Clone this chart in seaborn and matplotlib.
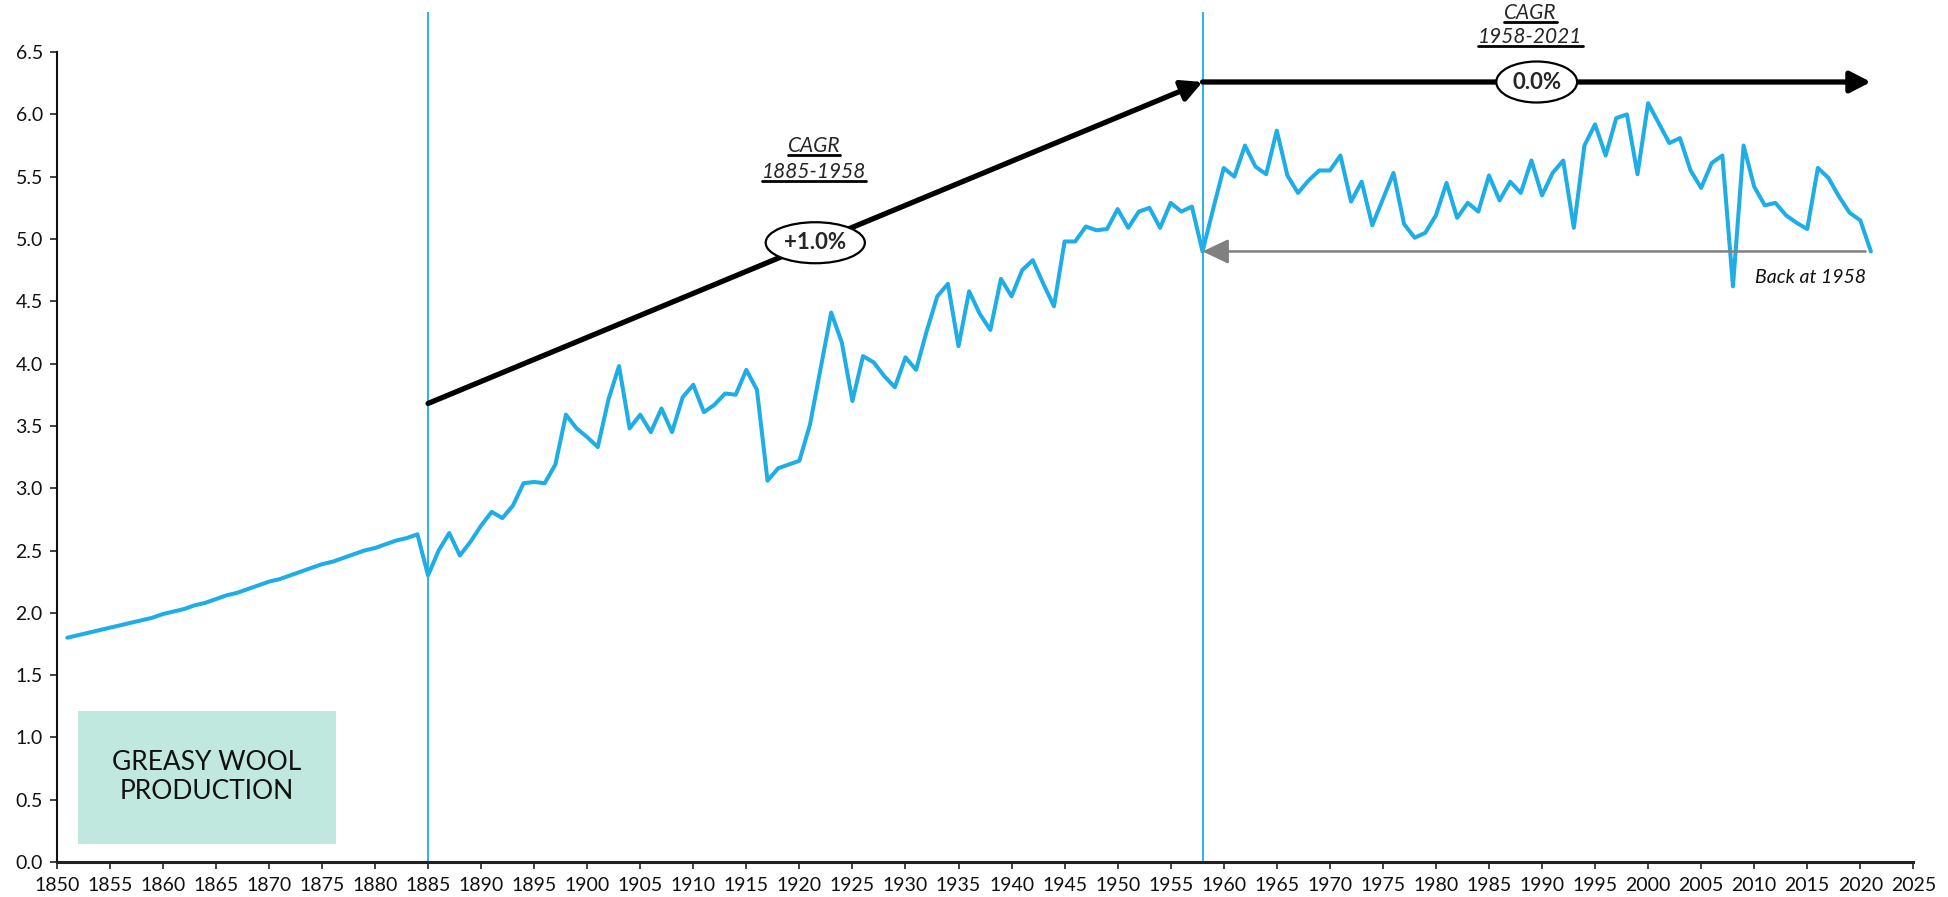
import numpy as np
import pandas as pd
import matplotlib
matplotlib.use("Agg")
import matplotlib.pyplot as plt
import seaborn as sns
from matplotlib.patches import Rectangle
from matplotlib.lines import Line2D

# ---------------- data ----------------
years = list(range(1851, 2022))
production = [
    # 1851-1884
    1.80, 1.82, 1.84, 1.86, 1.88, 1.90, 1.92, 1.94, 1.96, 1.99,
    2.01, 2.03, 2.06, 2.08, 2.11, 2.14, 2.16, 2.19, 2.22, 2.25,
    2.27, 2.30, 2.33, 2.36, 2.39, 2.41, 2.44, 2.47, 2.50, 2.52,
    2.55, 2.58, 2.60, 2.63,
    # 1885-1899
    2.30, 2.50, 2.64, 2.46, 2.57, 2.70, 2.81, 2.76, 2.86, 3.04,
    3.05, 3.04, 3.19, 3.59, 3.48,
    # 1900-1919
    3.41, 3.33, 3.71, 3.98, 3.48, 3.59, 3.45, 3.64, 3.45, 3.73,
    3.83, 3.61, 3.67, 3.76, 3.75, 3.95, 3.79, 3.06, 3.16, 3.19,
    # 1920-1939
    3.22, 3.51, 3.96, 4.41, 4.17, 3.70, 4.06, 4.01, 3.90, 3.81,
    4.05, 3.95, 4.26, 4.54, 4.64, 4.14, 4.58, 4.40, 4.27, 4.68,
    # 1940-1959
    4.54, 4.75, 4.83, 4.64, 4.46, 4.98, 4.98, 5.10, 5.07, 5.08,
    5.24, 5.09, 5.22, 5.25, 5.09, 5.29, 5.22, 5.26, 4.90, 5.24,
    # 1960-1979
    5.57, 5.50, 5.75, 5.58, 5.52, 5.87, 5.51, 5.37, 5.47, 5.55,
    5.55, 5.67, 5.30, 5.46, 5.11, 5.32, 5.53, 5.12, 5.01, 5.05,
    # 1980-1999
    5.19, 5.45, 5.17, 5.29, 5.22, 5.51, 5.31, 5.46, 5.37, 5.63,
    5.35, 5.53, 5.63, 5.09, 5.75, 5.92, 5.67, 5.97, 6.00, 5.52,
    # 2000-2021
    6.09, 5.93, 5.77, 5.81, 5.55, 5.41, 5.61, 5.67, 4.62, 5.75,
    5.42, 5.27, 5.29, 5.19, 5.13, 5.08, 5.57, 5.49, 5.34, 5.21,
    5.15, 4.90,
]
marker_years = [1885, 1958]
cagr_periods = ["1885-1958", "1958-2021"]
cagr_values = ["+1.0%", "0.0%"]
cagr_start = [3.68, 6.26]
cagr_end = [6.26, 6.26]
cagr_x = [(1885, 1958), (1958, 2021)]
x_ticks = list(range(1850, 2026, 5))
y_ticks = [i * 0.5 for i in range(14)]
title_text = "GREASY WOOL\nPRODUCTION"
back_text = "Back at 1958"

df = pd.DataFrame({"year": years, "value": production})

# ---------------- style ----------------
sns.set_style("ticks")
plt.rcParams["font.family"] = ["Lato", "DejaVu Sans"]

BLUE = "#1EADE5"
GREEN = "#C1E8DE"
GREY = "#808080"

fig = plt.figure(figsize=(19.49, 8.97), dpi=100)
ax = fig.add_axes([0.0291, 1 - 862 / 897, 0.9817 - 0.0291, 862 / 897])

sns.lineplot(data=df, x="year", y="value", ax=ax, color=BLUE, linewidth=2.9)

ax.set_xlim(1850, 2025)
ax.set_ylim(0, 862 / 124.6)
ax.set_xlabel("")
ax.set_ylabel("")
ax.set_xticks(x_ticks)
ax.set_xticklabels([str(x) for x in x_ticks], fontsize=14, color="#111111")
ax.set_yticks(y_ticks)
ax.set_yticklabels([f"{v:.1f}" for v in y_ticks], fontsize=14, color="#111111")
ax.spines["top"].set_visible(False)
ax.spines["right"].set_visible(False)
ax.spines["left"].set_bounds(0, 6.5)
ax.spines["left"].set_linewidth(1.5)
ax.spines["bottom"].set_linewidth(2.2)
ax.spines["left"].set_color("#111111")
ax.spines["bottom"].set_color("#222222")
ax.tick_params(axis="both", direction="out", length=5, width=1.2, colors="#222222")
ax.tick_params(axis="x", pad=6, labelcolor="#111111")
ax.tick_params(axis="y", pad=5, labelcolor="#111111")

# vertical marker lines
for yr in marker_years:
    ax.vlines(yr, 0, 6.82, color=BLUE, linewidth=1.3, clip_on=False, zorder=1)

# CAGR arrows
for (x0, x1), y0, y1, lab in zip(cagr_x, cagr_start, cagr_end, cagr_values):
    ax.annotate("", xy=(x1, y1), xytext=(x0, y0),
                arrowprops=dict(arrowstyle="-|>,head_length=0.62,head_width=0.32",
                                mutation_scale=20, lw=3.8, color="black",
                                shrinkA=0, shrinkB=0),
                annotation_clip=False, zorder=4)
# ellipse labels
ax.text(1921.5, 3.68 + (1921.5 - 1885) / 73 * (6.26 - 3.68), cagr_values[0],
        ha="center", va="center", fontsize=16, fontweight="bold", zorder=6,
        bbox=dict(boxstyle="ellipse,pad=0.18", fc="white", ec="black", lw=1.6))
ax.text(1989.5, 6.26, cagr_values[1], ha="center", va="center", fontsize=16,
        fontweight="bold", zorder=6,
        bbox=dict(boxstyle="ellipse,pad=0.18", fc="white", ec="black", lw=1.6))

# CAGR headings (italic, underlined)
under_texts = []
under_texts.append(ax.text(1921.4, 5.75, "CAGR", ha="center", va="center",
                           fontsize=15, style="italic", clip_on=False))
under_texts.append(ax.text(1921.4, 5.54, cagr_periods[0], ha="center", va="center",
                           fontsize=15, style="italic", clip_on=False))
under_texts.append(ax.text(1988.9, 6.81, "CAGR", ha="center", va="center",
                           fontsize=15, style="italic", clip_on=False))
under_texts.append(ax.text(1988.9, 6.62, cagr_periods[1], ha="center", va="center",
                           fontsize=15, style="italic", clip_on=False))

# Back at 1958 arrow
ax.annotate("", xy=(1958, 4.90), xytext=(2020.5, 4.90),
            arrowprops=dict(arrowstyle="-|>,head_length=0.8,head_width=0.38",
                            mutation_scale=20, lw=1.8, color=GREY,
                            shrinkA=0, shrinkB=0), zorder=3)
ax.text(2020.5, 4.69, back_text, ha="right", va="center", fontsize=14,
        style="italic", color="#111111")

# title box
ax.add_patch(Rectangle((1852.0, 0.145), 24.3, 1.065, facecolor=GREEN,
                       edgecolor="none", zorder=2))
ax.text(1864.15, 0.68, title_text, ha="center", va="center", fontsize=19,
        linespacing=1.2, color="#111111", zorder=3)

# underline the headings
fig.canvas.draw()
renderer = fig.canvas.get_renderer()
inv = fig.transFigure.inverted()
for t in under_texts:
    bb = t.get_window_extent(renderer)
    (x0, y0), (x1, y1) = inv.transform([(bb.x0, bb.y0 + 1.0), (bb.x1, bb.y0 + 1.0)])
    fig.add_artist(Line2D([x0, x1], [y0, y1], color="black", lw=2.0,
                          transform=fig.transFigure))

fig.savefig("out.png", dpi=100)
